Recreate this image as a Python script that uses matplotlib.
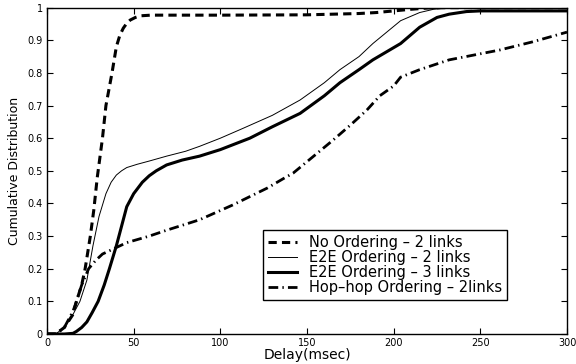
import matplotlib
matplotlib.use("Agg")
from matplotlib import pyplot as plt

plt.rcParams['font.family'] = ['DejaVu Sans']

# No Ordering - 2 links
no_x = [0, 5, 10, 15, 17, 20, 22, 25, 27, 29, 32, 34, 37.5, 40, 42, 44, 46, 48, 51, 54, 60, 100, 150, 180, 190, 200, 210, 220, 230, 300]
no_y = [0, 0, 0.02, 0.06, 0.1, 0.15, 0.2, 0.3, 0.38, 0.48, 0.6, 0.7, 0.8, 0.88, 0.915, 0.937, 0.952, 0.962, 0.97, 0.975, 0.977, 0.977, 0.978, 0.982, 0.985, 0.99, 0.995, 0.999, 1.0, 1.0]

# E2E Ordering - 2 links
e2_x = [0, 5, 10, 15, 19, 23, 26.5, 30, 34, 37, 40, 43, 46, 52, 59, 69, 80, 88, 100, 113, 130, 146, 160, 169, 180, 188, 196, 204, 215, 223, 232, 300]
e2_y = [0, 0, 0.02, 0.06, 0.1, 0.165, 0.27, 0.36, 0.43, 0.465, 0.487, 0.5, 0.51, 0.52, 0.53, 0.545, 0.56, 0.575, 0.6, 0.63, 0.67, 0.717, 0.77, 0.81, 0.85, 0.89, 0.925, 0.96, 0.985, 0.995, 1.0, 1.0]

# E2E Ordering - 3 links
e3_x = [0, 10, 15, 17, 20, 23, 26, 29.5, 33, 36, 38, 40, 42, 46, 50, 55, 59, 63, 69, 78, 88, 100, 117, 130, 146, 160, 169, 180, 188, 196, 204, 215, 225, 232, 242, 250, 300]
e3_y = [0, 0, 0.002, 0.008, 0.02, 0.037, 0.065, 0.1, 0.15, 0.2, 0.235, 0.27, 0.31, 0.39, 0.43, 0.465, 0.485, 0.5, 0.518, 0.533, 0.545, 0.565, 0.6, 0.635, 0.676, 0.73, 0.77, 0.81, 0.84, 0.865, 0.89, 0.94, 0.97, 0.98, 0.988, 0.99, 0.99]

# Hop-hop Ordering - 2links
hh_x = [0, 5, 10, 15, 17, 20, 24, 28, 32, 36, 40, 46, 59, 69, 88, 107, 127, 136, 142, 155, 165, 175, 184.5, 192, 200, 204, 215, 232, 261, 280, 300]
hh_y = [0, 0, 0.02, 0.07, 0.1, 0.15, 0.2, 0.225, 0.245, 0.255, 0.265, 0.28, 0.3, 0.318, 0.35, 0.395, 0.447, 0.475, 0.493, 0.55, 0.594, 0.64, 0.686, 0.73, 0.76, 0.787, 0.81, 0.84, 0.87, 0.895, 0.925]

labels = ['No Ordering \u2013 2 links', 'E2E Ordering \u2013 2 links',
          'E2E Ordering \u2013 3 links', 'Hop\u2013hop Ordering \u2013 2links']
xticks = [0, 50, 100, 150, 200, 250, 300]
yticks = [0, 0.1, 0.2, 0.3, 0.4, 0.5, 0.6, 0.7, 0.8, 0.9, 1]
ytick_labels = ['0', '0.1', '0.2', '0.3', '0.4', '0.5', '0.6', '0.7', '0.8', '0.9', '1']

fig = plt.figure(figsize=(5.76, 3.64), dpi=100)
ax = fig.add_axes([0.0816, 0.0824, 0.9028, 0.8966])

ax.plot(no_x, no_y, color='k', lw=2.2, linestyle=(0, (2.7, 1.7)), label=labels[0])
ax.plot(e2_x, e2_y, color='k', lw=0.7, label=labels[1])
ax.plot(e3_x, e3_y, color='k', lw=2.2, label=labels[2])
ax.plot(hh_x, hh_y, color='k', lw=2.0, linestyle=(0, (3.5, 1.5, 0.5, 1.5)), label=labels[3])

ax.set_xlim(0, 300)
ax.set_ylim(0, 1)
ax.set_xticks(xticks)
ax.set_yticks(yticks)
ax.set_yticklabels(ytick_labels)
ax.tick_params(direction='in', top=True, right=True, length=4, width=0.8, labelsize=7, pad=3)
for s in ax.spines.values():
    s.set_linewidth(1.0)

ax.set_xlabel('Delay(msec)', fontsize=10, labelpad=0)
ax.set_ylabel('Cumulative Distribution', fontsize=9, labelpad=5)

leg = ax.legend(loc='lower right', bbox_to_anchor=(0.885, 0.104), borderaxespad=0,
                fancybox=False, edgecolor='k', fontsize=10.5, handlelength=2.0,
                labelspacing=0.0, borderpad=0.35, handletextpad=0.8, framealpha=1)
leg.get_frame().set_linewidth(1.0)

fig.savefig('out.png', dpi=100)
